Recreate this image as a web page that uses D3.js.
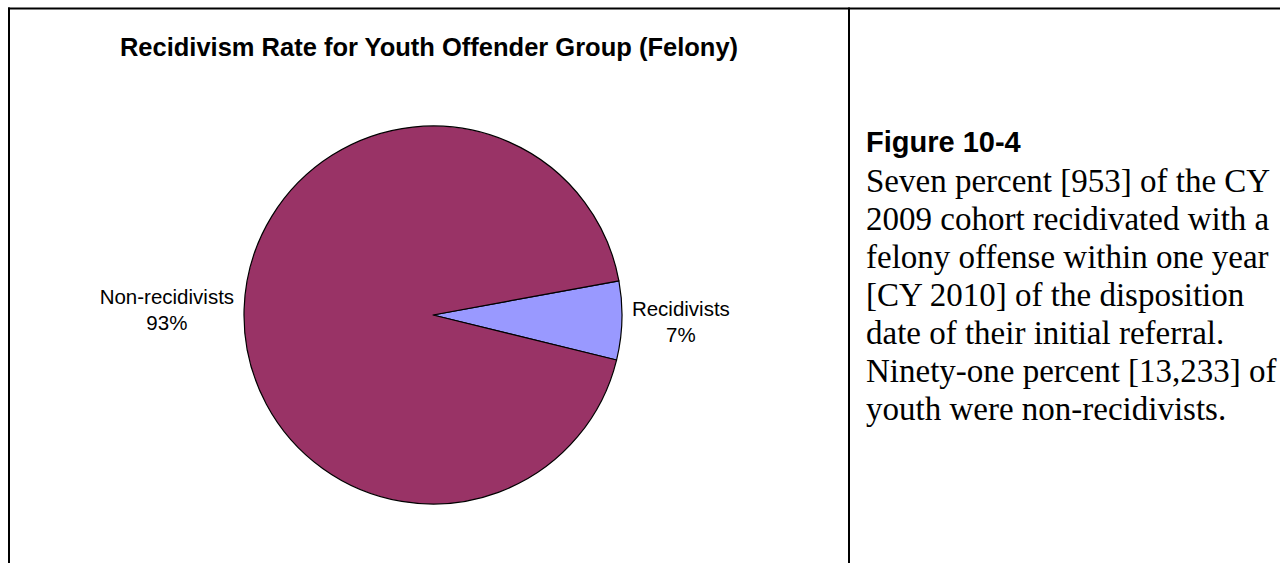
<!DOCTYPE html>
<html>
<head>
<meta charset="utf-8">
<script src="https://cdn.jsdelivr.net/npm/d3@7"></script>
<style>
  html, body { margin: 0; padding: 0; background: #fff; }
  svg { display: block; }
</style>
</head>
<body>
<svg id="chart" width="1280" height="563"></svg>
<script>
// ---- data ----
const categories = ["Recidivists", "Non-recidivists"];
const counts = [953, 13233];
const sliceColors = ["#9999FF", "#993366"];
const chartTitle = "Recidivism Rate for Youth Offender Group (Felony)";
const figureHeading = "Figure 10-4";
const figureText = [
  "Seven percent [953] of the CY",
  "2009 cohort recidivated with a",
  "felony offense within one year",
  "[CY 2010] of the disposition",
  "date of their initial referral.",
  "Ninety-one percent [13,233] of",
  "youth were non-recidivists."
];

const svg = d3.select("#chart");
const W = 1280, H = 563;

// frame lines
svg.append("line").attr("x1", 8).attr("x2", W).attr("y1", 8.5).attr("y2", 8.5)
  .attr("stroke", "#000").attr("stroke-width", 2);
svg.append("line").attr("x1", 9).attr("x2", 9).attr("y1", 7.5).attr("y2", H)
  .attr("stroke", "#000").attr("stroke-width", 2);
svg.append("line").attr("x1", 849).attr("x2", 849).attr("y1", 7.5).attr("y2", H)
  .attr("stroke", "#000").attr("stroke-width", 2);

// title
svg.append("text")
  .attr("x", 429).attr("y", 56)
  .attr("text-anchor", "middle")
  .attr("font-family", "Liberation Sans, Arial, sans-serif")
  .attr("font-weight", "bold")
  .attr("font-size", "25.5px")
  .attr("fill", "#000")
  .text(chartTitle);

// pie
const cx = 433, cy = 315, r = 189;
const total = d3.sum(counts);
const start = 79.6 * Math.PI / 180;
const pie = d3.pie().sort(null).value(d => d.v)
  .startAngle(start).endAngle(start + 2 * Math.PI);
const data = categories.map((c, i) => ({ name: c, v: counts[i], color: sliceColors[i] }));
const arcs = pie(data);
const arc = d3.arc().innerRadius(0).outerRadius(r);

const g = svg.append("g").attr("transform", `translate(${cx},${cy})`);
g.selectAll("path").data(arcs).enter().append("path")
  .attr("d", arc)
  .attr("fill", d => d.data.color)
  .attr("stroke", "#000")
  .attr("stroke-width", 1.2)
  .attr("stroke-linejoin", "round");

// labels
const fmt = v => Math.round(v / total * 100) + "%";
arcs.forEach(a => {
  const mid = (a.startAngle + a.endAngle) / 2;
  const ax = cx + (r + 10) * Math.sin(mid);
  const ay = cy - (r + 10) * Math.cos(mid);
  const right = Math.sin(mid) > 0;
  const t = svg.append("text")
    .attr("font-family", "Liberation Sans, Arial, sans-serif")
    .attr("font-size", "20.5px")
    .attr("fill", "#000")
    .attr("text-anchor", "middle");
  const l1 = t.append("tspan").text(a.data.name);
  const l2 = t.append("tspan").text(fmt(a.data.v));
  const w = Math.max(l1.node().getComputedTextLength(), l2.node().getComputedTextLength());
  const lx = right ? ax + w / 2 : ax - w / 2;
  l1.attr("x", lx).attr("y", ay - 5);
  l2.attr("x", lx).attr("y", ay + 21);
});

// right-hand text
const tx = 866;
svg.append("text")
  .attr("x", tx).attr("y", 152)
  .attr("font-family", "Liberation Sans, Arial, sans-serif")
  .attr("font-weight", "bold")
  .attr("font-size", "29px")
  .attr("fill", "#000")
  .text(figureHeading);
const body = svg.append("text")
  .attr("font-family", "Liberation Serif, 'Times New Roman', serif")
  .attr("font-size", "33px")
  .attr("fill", "#000");
figureText.forEach((line, i) => {
  body.append("tspan").attr("x", tx).attr("y", 192 + i * 38).text(line);
});
</script>
</body>
</html>
